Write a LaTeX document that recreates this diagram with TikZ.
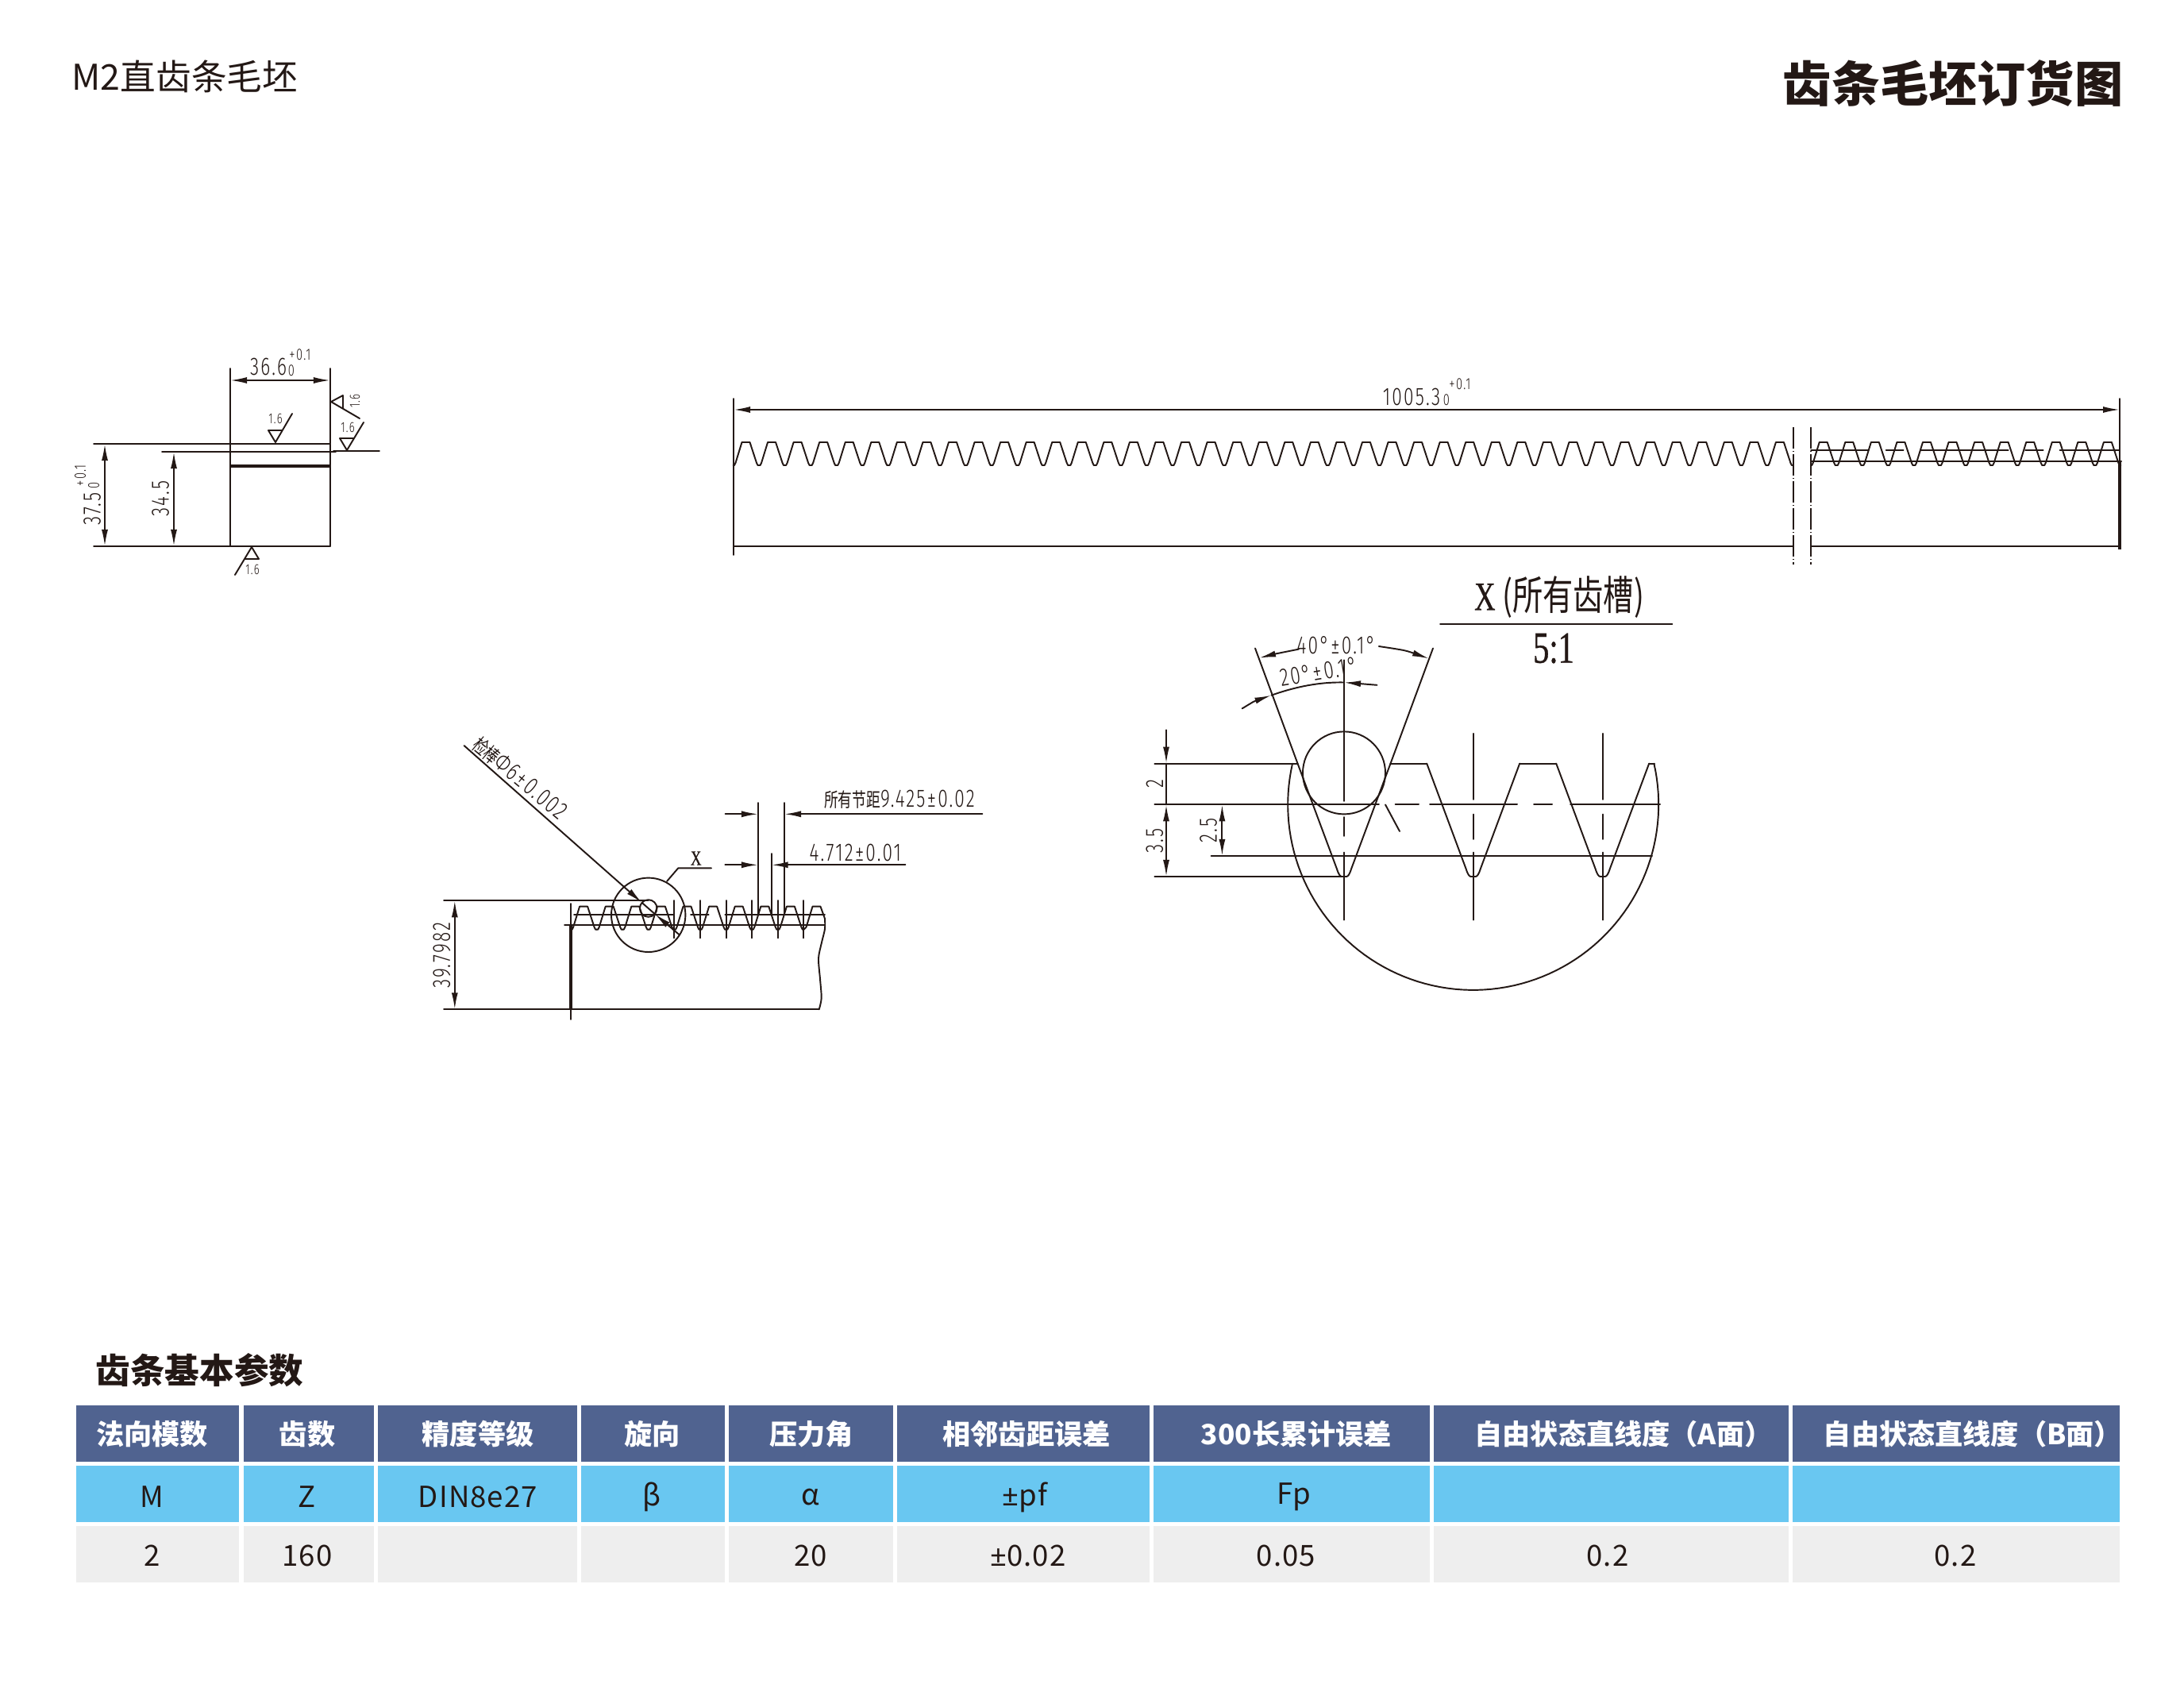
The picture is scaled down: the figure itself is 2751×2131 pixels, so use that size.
\documentclass[tikz,border=0pt]{standalone}
\usepackage{fontspec}
\usetikzlibrary{arrows.meta}
\setmainfont{Noto Sans CJK SC}
\newfontfamily\dimfont[FakeStretch=0.72,LetterSpace=7]{Fira Sans Light}
\newfontfamily\dimcjk[FakeStretch=0.72]{Noto Sans CJK SC}
\newfontfamily\titlefont[FakeStretch=0.72,FakeBold=0.6]{Liberation Serif}
\newfontfamily\cellfont[LetterSpace=3]{Noto Sans CJK SC}
\newfontfamily\signfont{Noto Sans}
\definecolor{ink}{HTML}{231815}
\definecolor{headblue}{HTML}{506390}
\definecolor{rowblue}{HTML}{69C7F1}
\definecolor{rowgray}{HTML}{EEEEEE}
\tikzset{
	rackline/.style={line width=0.55pt,line cap=round,line join=round},
	thickline/.style={line width=1pt},
	breakline/.style={line width=0.45pt,dash pattern=on 0.27cm off 0.03cm on 0.01cm off 0.03cm},
	dimtxt/.style={inner sep=0pt,font=\dimfont\fontsize{9}{10}\selectfont},
	tinytxt/.style={inner sep=0pt,font=\dimfont\fontsize{5.8}{6}\selectfont},
	roughtxt/.style={inner sep=0pt,font=\dimfont\fontsize{5.2}{6}\selectfont},
	headtxt/.style={inner sep=0pt,text=white,font=\bfseries\fontsize{10}{12}\selectfont},
	celltxt/.style={inner sep=0pt,font=\cellfont\fontsize{10.4}{12}\selectfont},
	rackgap/.pic={\draw[rackline] (0,0)--(1.5,0)--(3,-3)--(11,-29)--(21,-29)--(29.5,-3)--(31,0)--(32.56,0);},
	>={Latex[length=0.21cm,width=0.08cm]}
}
\begin{document}
\begin{tikzpicture}[x=0.01cm,y=-0.01cm,color=ink]
	\useasboundingbox (0,0) rectangle (2751,2131);
	\fill[white] (0,0) rectangle (2751,2131);
	% titles
	\node[inner sep=0pt,anchor=west,font=\fontsize{12.7}{14}\selectfont] (pagename) at (90,96.5) {M2直齿条毛坯};
	\node[inner sep=0pt,anchor=east,font=\bfseries\fontsize{17.4}{20}\selectfont] (pagetitle) at (2675,105) {齿条毛坯订货图};
	% section view
	\draw[rackline] (290,464)--(290,688);
	\draw[rackline] (416,464)--(416,688);
	\draw[rackline] (118,559)--(416,559);
	\draw[rackline] (204,569)--(423,569);
	\draw[rackline] (420,568)--(478,568);
	\draw[thickline] (290,587)--(416,587);
	\draw[rackline] (118,688)--(416,688);
	\draw[rackline,<->] (290,479)--(416,479);
	\draw[rackline,<->] (132,559)--(132,688);
	\draw[rackline,<->] (219,569)--(219,688);
	\node[dimtxt] (secw) at (338,462) {36.6};
	\node[tinytxt] (secwlow) at (367,467) {0};
	\node[tinytxt] (secwup) at (378,447) {+0.1};
	\node[dimtxt,rotate=90] (sech) at (116,641) {37.5};
	\node[tinytxt,rotate=90] (sechlow) at (118,611) {0};
	\node[tinytxt,rotate=90] (sechup) at (101,599) {+0.1};
	\node[dimtxt,rotate=90] (secf) at (202,628) {34.5};
	% roughness marks
	\draw[rackline] (338,542)--(356,542) (338,542)--(347,557)--(368,521);
	\node[roughtxt] (rough1) at (347,527) {1.6};
	\draw[rackline] (428,552)--(446,552) (428,552)--(437,567)--(458,532);
	\node[roughtxt] (rough2) at (438,538) {1.6};
	\draw[rackline] (432,498)--(432,514) (432,498)--(417,506)--(453,527);
	\node[roughtxt,rotate=90] (rough3) at (447,505) {1.6};
	\draw[rackline] (309,704)--(326,704) (326,704)--(317,689)--(296,724);
	\node[roughtxt] (rough4) at (318,717) {1.6};
	% long rack
	\draw[rackline] (924,502)--(924,699);
	\draw[rackline] (2670,502)--(2670,580);
	\draw[thickline] (2670,580)--(2670,692);
	\draw[rackline,<->] (924,516)--(2670,516);
	\node[dimtxt] (racklen) at (1778,500) {1005.3};
	\node[tinytxt] (racklenlow) at (1822,504) {0};
	\node[tinytxt] (racklenup) at (1839,484) {+0.1};
	\foreach \k in {0,...,40}
	\pic at (923.5+\k*32.56,586) {rackgap};
	\foreach \k in {0,...,11}
	\pic at (2280.7+\k*32.56,586) {rackgap};
	\draw[rackline] (924,688)--(2259,688);
	\draw[rackline] (2281,688)--(2670,688);
	\draw[breakline] (2259,538)--(2259,711);
	\draw[breakline] (2281,538)--(2281,711);
	\foreach \a/\b in {2281/2353.6,2375.7/2397.5,2419.6/2529.6,2551/2573.6,2594.6/2668.6}
	\draw[rackline] (\a,567)--(\b,567);
	\draw[rackline] (2281,580.7)--(2672,580.7);
	% short rack
	\foreach \k in {0,...,8}
	\pic at (719.1+\k*32.6,1170.7) {rackgap};
	\draw[rackline] (1012.5,1170.7)--(1015.5,1167.7)--(1023.5,1141.7)--(1033.5,1141.7)--(1039,1157);
	\foreach \a/\b in {723/848.7,870/892.7,913.3/1039}
	\draw[rackline] (\a,1152.3)--(\b,1152.3);
	\draw[rackline] (711,1165.3)--(1039,1165.3);
	\draw[rackline] (719,1138)--(719,1165);
	\draw[thickline] (719,1165)--(719,1271);
	\draw[rackline] (719,1271)--(719,1284);
	\draw[rackline] (559,1271.3)--(1031.7,1271.3);
	\draw[rackline,smooth] plot coordinates {(1039,1157) (1039,1170) (1035,1187) (1031,1207) (1033,1233) (1034.7,1257) (1031.7,1271.3)};
	\foreach \x in {849.3,882,914.7,947,979.7,1012.3}
	\draw[rackline] (\x,1134)--(\x,1181.3);
	\draw[rackline] (816.7,1152.3) circle[radius=46.7];
	\draw[rackline] (816.7,1144) circle[radius=10.8];
	\draw[rackline] (840,1110)--(854.3,1093.3)--(896,1093.3);
	\node[inner sep=0pt,font=\titlefont\fontsize{7.5}{8}\selectfont] (markx) at (876.7,1081) {X};
	\draw[rackline,->] (584.5,939)--(808.6,1136.9);
	\draw[rackline,->] (855.7,1177.3)--(824.8,1151.1);
	\draw[rackline] (808.6,1136.9)--(824.8,1151.1);
	\node[dimtxt,rotate=-40] (pinsize) at (655,980) {{\dimcjk\fontsize{7}{8}\selectfont 检棒}Φ6±0.002};
	\draw[rackline] (559,1134.3)--(816.7,1134.3);
	\draw[rackline,<->] (572.8,1134.3)--(572.8,1271.3);
	\node[dimtxt,rotate=90] (rackh) at (556.4,1203) {39.7982};
	\draw[rackline] (955,1011)--(955,1152);
	\draw[rackline] (988,1011)--(988,1152);
	\draw[rackline] (971.7,1075)--(971.7,1152);
	\draw[rackline,->] (913.6,1025.3)--(955,1025.3);
	\draw[rackline,->] (1237.4,1025.3)--(988,1025.3);
	\node[dimtxt] (pitchall) at (1133,1007) {{\dimcjk\fontsize{7}{8}\selectfont 所有节距}9.425±0.02};
	\draw[rackline,->] (913.3,1089.3)--(955,1089.3);
	\draw[rackline,->] (1140.5,1089.3)--(971.7,1089.3);
	\node[dimtxt] (pitchhalf) at (1077.4,1074) {4.712±0.01};
	% detail X
	\node[inner sep=0pt,font=\fontsize{14.5}{16}\selectfont] (detailname) at (1964,752) {\titlefont X\,\dimcjk\addfontfeature{FakeStretch=0.75}(所有齿槽)};
	\draw[rackline] (1814,785.8)--(2106.4,785.8);
	\node[inner sep=0pt,font=\titlefont\fontsize{16}{17}\selectfont] (detailscale) at (1957,816.5) {5:1};
	\foreach \c in {1693,1855.7,2018.7}
	\draw[rackline] (\c-58.5,961.6)--(\c-9.2,1094) .. controls (\c-7,1101) and (\c-5,1104) .. (\c-3,1104)--(\c+3,1104) .. controls (\c+5,1104) and (\c+7,1101) .. (\c+9.2,1094)--(\c+58.5,961.6);
	\draw[rackline] (1581,816.5)--(1634.5,961.6);
	\draw[rackline] (1805,816.5)--(1751.5,961.6);
	\draw[rackline] (1454.4,961.6)--(1634.5,961.6);
	\draw[rackline] (1751.5,961.6)--(1797.2,961.6);
	\draw[rackline] (1914.2,961.6)--(1960.2,961.6);
	\draw[rackline] (2077.2,961.6)--(2084,961.6);
	\draw[rackline] plot[domain=-12.8:192.8,samples=90] ({1855.7+233.5*cos(\x)},{1013.4+233.5*sin(\x)});
	\draw[rackline] (1693,973.4) circle[radius=52];
	\foreach \a/\b in {1454.4/1736.8,1757.5/1787,1801/1911,1932/1955,1978/2091}
	\draw[rackline] (\a,1013.4)--(\b,1013.4);
	\draw[rackline] (1525.6,1078)--(2081,1078);
	\draw[rackline] (1454.4,1104)--(1693,1104);
	\draw[rackline] (1693,831.3)--(1693,1009) (1693,1029)--(1693,1053) (1693,1073.7)--(1693,1158.7);
	\foreach \c in {1855.7,2018.7}
	\draw[rackline] (\c,923.8)--(\c,1007) (\c,1025.6)--(\c,1057) (\c,1073.7)--(\c,1158.7);
	\draw[rackline] (1745,1013.4)--(1763,1047);
	\draw[rackline,->] (1469,919.4)--(1469,961.6);
	\draw[rackline] (1469,961.6)--(1469,1013.4);
	\draw[rackline,<->] (1469,1013.4)--(1469,1104);
	\draw[rackline,<->] (1539.4,1013.4)--(1539.4,1078);
	\node[dimtxt,rotate=90] (toothup) at (1454.4,987) {2};
	\node[dimtxt,rotate=90] (toothall) at (1454.4,1059) {3.5};
	\node[dimtxt,rotate=90] (toothlow) at (1522,1046) {2.5};
	\node[dimtxt] (anglefull) at (1683,813) {40°±0.1°};
	\draw[rackline,->] (1636,817.6) .. controls (1620,820) .. (1586,828.7);
	\draw[rackline,->] (1736.8,814) .. controls (1770,819) .. (1800,829.5);
	\node[dimtxt,rotate=9.4] (anglehalf) at (1661,846) {20°±0.1°};
	\draw[rackline,->] (1564.6,892.4) .. controls (1580,883) .. (1601.4,875.7);
	\draw[rackline] (1601.4,875.7) .. controls (1640,862) and (1670,859) .. (1693,859.5);
	\draw[rackline,->] (1734.5,862.8)--(1693,859.5);
	% parameter table
	\node[inner sep=0pt,anchor=west,font=\bfseries\fontsize{12.4}{14}\selectfont] (tabletitle) at (120,1726) {齿条基本参数};
	\foreach \a/\b in {95.9/301.3,306.6/470.9,476.3/727,731.6/912.9,918.2/1125.4,1129.8/1447.7,1453.4/1800.9,1806/2252.6,2257.8/2669.8}{
		\fill[headblue] (\a,1769.5) rectangle (\b,1841);
		\fill[rowblue] (\a,1845.5) rectangle (\b,1917);
		\fill[rowgray] (\a,1921.5) rectangle (\b,1993);
	}
	\foreach \x/\t [count=\n] in {191.4/法向模数,387/齿数,602/精度等级,821.8/旋向,1022/压力角,1293/相邻齿距误差,1632.8/300长累计误差,2045/自由状态直线度（A面）,2485/自由状态直线度（B面）}
	\node[headtxt] (head\n) at (\x,1806.5) {\t};
	\foreach \x/\t [count=\n] in {191.4/M,387/Z,602/DIN8e27,821/β,1021/α,1291/{\signfont ±}pf,1630/Fp}
	\node[celltxt] (sym\n) at (\x,1885.5) {\t};
	\foreach \x/\t [count=\n] in {191.4/2,387/160,1021/20,1295/{\signfont ±}0.02,1620/0.05,2025/0.2,2463/0.2}
	\node[celltxt] (val\n) at (\x,1959.5) {\t};
\end{tikzpicture}
\end{document}
